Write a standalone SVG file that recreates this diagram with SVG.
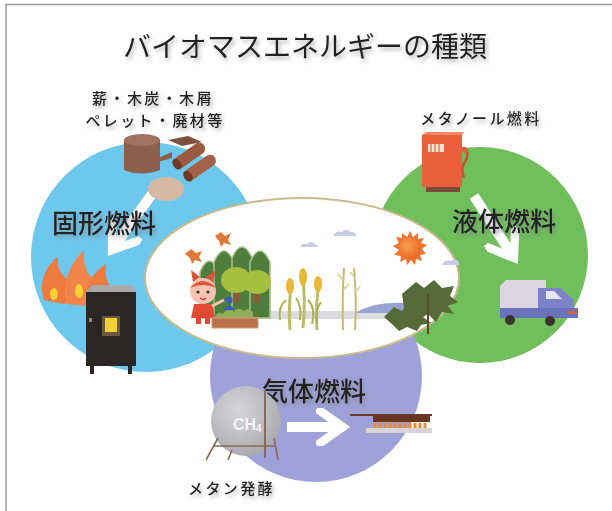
<svg xmlns="http://www.w3.org/2000/svg" width="612" height="511" viewBox="0 0 612 511">
  <defs>
    <filter id="shadow" x="-10%" y="-40%" width="120%" height="180%">
      <feDropShadow dx="2" dy="3" stdDeviation="2" flood-color="#777" flood-opacity="0.55"/>
    </filter>
    <radialGradient id="tankGrad" cx="0.4" cy="0.35" r="0.7">
      <stop offset="0" stop-color="#d6d6da"/>
      <stop offset="1" stop-color="#a8a8ae"/>
    </radialGradient>
    <radialGradient id="sunGrad" cx="0.4" cy="0.4" r="0.6">
      <stop offset="0" stop-color="#f8a050"/>
      <stop offset="1" stop-color="#ec6a28"/>
    </radialGradient>
    <marker id="chev" viewBox="0 0 10 10" refX="7" refY="5" markerWidth="3.8" markerHeight="3.8" orient="auto" markerUnits="strokeWidth">
      <path d="M1,0.8 L7,5 L1,9.2" fill="none" stroke="#fff" stroke-width="2.2" stroke-linecap="square"/>
    </marker>
  </defs>
  <style>
    .jp { font-family: "Noto Sans CJK JP", "Noto Sans", sans-serif; fill: #222; }
    .title { font-size: 28px; font-weight: 400; }
    .big { font-size: 26px; font-weight: 500; }
    .small { font-size: 15px; font-weight: 500; letter-spacing: 2.4px; }
    .flow { stroke: #fff; stroke-width: 10; fill: none; stroke-linecap: butt; }
    .mtn { fill: #4f7d3e; stroke: #a9c08a; stroke-width: 1.5; }
    .crown { fill: #a7bf3e; }
    .trunk { fill: #8a5a3a; }
    .pine { fill: #556b3a; }
    .cloud { fill: #c9cbe6; }
    .stalk { stroke: #b7bf6a; stroke-width: 3; fill: none; }
    .cob { fill: #e8b838; }
  </style>

  <!-- frame -->
  <rect x="0" y="0" width="612" height="511" fill="#fff"/>
  <path d="M6,511 L6,4.5 L612,4.5" fill="none" stroke="#9a9a9a" stroke-width="1.5"/>

  <!-- title -->
  <text class="jp title" x="305" y="57" text-anchor="middle" filter="url(#shadow)">バイオマスエネルギーの種類</text>

  <!-- three fuel circles -->
  <g id="solid-circle"><circle cx="146" cy="257" r="115" fill="#6ec8ee"/></g>
  <g id="liquid-circle"><circle cx="480" cy="255" r="108" fill="#70bf5c"/></g>
  <g id="gas-circle"><circle cx="316" cy="376" r="106" fill="#9fa2d8"/></g>

  <!-- connectors: white arrows inside each circle -->
  <g id="connectors">
    <line class="flow" x1="152" y1="194" x2="112" y2="250" marker-end="url(#chev)"/>
    <line class="flow" x1="474" y1="196" x2="514" y2="258" marker-end="url(#chev)"/>
    <line class="flow" x1="287" y1="427" x2="343" y2="427" marker-end="url(#chev)"/>
  </g>

  <!-- central biomass landscape -->
  <g id="biomass-scene">
    <ellipse cx="302" cy="278" rx="157" ry="80" fill="#fff" stroke="#c9bb8c" stroke-width="2"/>
    <!-- clouds -->
    <path class="cloud" d="M333,236 q3,-6 9,-4 q4,-5 9,0 q5,0 5,4 z"/>
    <path class="cloud" d="M300,247 q2,-5 7,-3 q4,-4 8,0 q3,1 3,3 z"/>
    <path class="cloud" d="M442,265 q3,-6 9,-4 q4,-4 8,1 l0,3 z"/>
    <!-- sun -->
    <g transform="translate(410,248)">
      <polygon fill="#ef7430" points="0,-17 3,-11 8,-15 8,-9 14,-10 11,-5 17,-3 12,1 16,6 10,7 12,13 6,11 5,17 1,12 -3,17 -4,11 -10,14 -9,8 -16,7 -11,2 -17,-2 -11,-5 -14,-11 -8,-10 -8,-15 -3,-11"/>
      <circle r="11" fill="url(#sunGrad)"/>
    </g>
    <!-- ground -->
    <rect x="225" y="311" width="195" height="8" fill="#dcdcde"/>
    <path d="M355,313 q20,-12 50,-10 q20,2 30,10 z" fill="#9aa4d2"/>
    <!-- mountains -->
    <path class="mtn" d="M200,318 L200,272 q10,-22 18,0 L218,318 z"/>
    <path class="mtn" d="M214,318 L214,262 q10,-22 20,0 L234,318 z"/>
    <path class="mtn" d="M232,318 L232,258 q10,-22 20,0 L252,318 z"/>
    <path class="mtn" d="M250,318 L250,262 q10,-22 20,0 L270,318 z"/>
    <!-- broad-leaved trees -->
    <rect class="trunk" x="234" y="282" width="5" height="20"/>
    <ellipse class="crown" cx="236" cy="280" rx="15" ry="13"/>
    <rect class="trunk" x="254" y="285" width="5" height="18"/>
    <ellipse class="crown" cx="257" cy="282" rx="14" ry="12"/>
    <!-- birds / butterflies -->
    <path d="M215,236 l6,-4 l4,4 l6,-3 l-3,7 l3,5 l-7,-2 l-3,4 l-2,-6 z" fill="#e07a3a"/>
    <path d="M185,254 l6,-5 l5,4 l6,-2 l-3,6 l3,5 l-7,-2 l-3,4 l-2,-6 z" fill="#e07a3a"/>
    <!-- child -->
    <path d="M193,282 l-2,-12 l9,7 z M213,282 l3,-12 l-10,7 z" fill="#e0553a"/>
    <circle cx="203" cy="291" r="13" fill="#f6c4b0"/>
    <path d="M190,288 q13,-14 26,0 q-13,-6 -26,0 z" fill="#e0553a"/>
    <circle cx="198" cy="292" r="1.6" fill="#333"/>
    <circle cx="208" cy="292" r="1.6" fill="#333"/>
    <path d="M200,298 q3,3 6,0" stroke="#c0392b" stroke-width="1.2" fill="none"/>
    <path d="M194,304 h18 l3,14 h-24 z" fill="#e34a36"/>
    <path d="M212,306 l12,-6" stroke="#f6c4b0" stroke-width="3"/>
    <rect x="196" y="318" width="5" height="6" fill="#e34a36"/>
    <rect x="205" y="318" width="5" height="6" fill="#e34a36"/>
    <!-- small figure and planter -->
    <circle cx="229" cy="300" r="3.5" fill="#3b5fb0"/>
    <path d="M224,310 q5,-9 11,0 z" fill="#3b5fb0"/>
    <path d="M214,318 q4,-8 9,-4 q4,-7 10,-2 q5,-6 11,-1 q4,-4 9,1 l0,6 z" fill="#8fae5a"/>
    <rect x="212" y="318" width="46" height="10" fill="#b8714a" stroke="#d99a70" stroke-width="1"/>
    <!-- maize -->
    <path class="stalk" d="M290,330 q-2,-25 2,-50"/>
    <path class="stalk" d="M303,328 q3,-28 -1,-58"/>
    <path class="stalk" d="M317,330 q-2,-25 3,-52"/>
    <ellipse class="cob" cx="290" cy="286" rx="4" ry="8"/>
    <ellipse class="cob" cx="303" cy="277" rx="4" ry="9"/>
    <ellipse class="cob" cx="318" cy="284" rx="4" ry="8"/>
    <path d="M286,300 q-8,6 -6,20 M296,298 q6,8 4,22 M308,300 q8,8 4,24 M321,302 q-6,8 -4,22" stroke="#a9b54c" stroke-width="2" fill="none"/>
    <!-- grass -->
    <path d="M343,330 q-1,-30 1,-62 M355,330 q2,-30 -1,-62" stroke="#c8b870" stroke-width="2" fill="none"/>
    <path d="M343,280 l-5,-6 M343,290 l6,-6 M355,278 l-5,-6 M355,292 l5,-5" stroke="#d8cc90" stroke-width="1.5"/>
    <!-- pines -->
    <path class="pine" d="M384,317 l10,-10 l8,4 l6,-8 l8,6 l5,-4 l8,8 l-6,4 l8,6 l-10,2 l-4,6 l-10,-4 l-8,4 l-6,-6 z"/>
    <path class="pine" d="M402,294 l14,-12 l8,6 l10,-8 l8,8 l12,-2 l-4,10 l8,6 l-10,4 l6,8 l-12,-2 l-6,10 l-8,-8 l-10,6 l-2,-10 l-12,-2 z"/>
    <path d="M428,294 v40" stroke="#5a4a2a" stroke-width="2"/>
  </g>

  <!-- solid fuel: wood, pellets, stove -->
  <g id="solid-fuel">
    <text class="jp small" x="153" y="104" text-anchor="middle" filter="url(#shadow)">薪・木炭・木屑</text>
    <text class="jp small" x="155" y="126" text-anchor="middle" filter="url(#shadow)">ペレット・廃材等</text>
    <!-- stump -->
    <path d="M124,140 v30 q17,7 36,0 v-30 z" fill="#8c5e4c"/>
    <ellipse cx="142" cy="140" rx="18" ry="6" fill="#a27260"/>
    <path d="M158,158 l14,-6 v6 l-14,4 z" fill="#8c5e4c"/>
    <!-- logs -->
    <g transform="rotate(-35 190 160)">
      <rect x="174" y="150" width="36" height="12" rx="6" fill="#9a5a40"/>
      <ellipse cx="177" cy="156" rx="4" ry="6" fill="#6e3a28"/>
      <rect x="176" y="166" width="36" height="12" rx="6" fill="#a46248"/>
      <ellipse cx="179" cy="172" rx="4" ry="6" fill="#6e3a28"/>
    </g>
    <path d="M168,140 l20,-4 l14,6 l-20,4 z" fill="#7e5040"/>
    <!-- sawdust -->
    <ellipse cx="166" cy="189" rx="18" ry="12" fill="#d6b9a2"/>
    <text class="jp big" x="52" y="233" filter="url(#shadow)">固形燃料</text>
    <!-- flames -->
    <path d="M44,300 q-8,-24 14,-44 q-2,14 8,22 q12,16 -2,26 z" fill="#ef7a3e"/>
    <path d="M66,304 q-6,-30 18,-54 q-2,20 10,30 q8,18 -6,26 z" fill="#f0844a"/>
    <path d="M88,302 q-4,-24 18,-38 q-2,14 4,22 q4,14 -6,18 z" fill="#ef7a3e"/>
    <ellipse cx="54" cy="294" rx="4" ry="6" fill="#f7d234"/>
    <ellipse cx="79" cy="291" rx="4" ry="7" fill="#f7d234"/>
    <!-- stove -->
    <path d="M86,292 l6,-7 h40 l4,7 z" fill="#aaa"/>
    <rect x="86" y="292" width="50" height="74" fill="#2b2626"/>
    <rect x="90" y="366" width="4" height="8" fill="#2b2626"/>
    <rect x="128" y="366" width="4" height="8" fill="#2b2626"/>
    <rect x="102" y="316" width="18" height="20" fill="#6a5a3a"/>
    <rect x="105" y="318" width="12" height="14" fill="#f2d03a"/>
    <rect x="89" y="318" width="3" height="4" fill="#888"/>
  </g>

  <!-- liquid fuel: methanol pump and truck -->
  <g id="liquid-fuel">
    <text class="jp small" x="481" y="124" text-anchor="middle" filter="url(#shadow)">メタノール燃料</text>
    <rect x="422" y="135" width="40" height="52" fill="#e9603a"/>
    <path d="M422,135 l4,-3 h38 l-2,3 z" fill="#f08a60"/>
    <rect x="428" y="144" width="16" height="8" fill="#f4e0d0"/>
    <path d="M431,144 v8 M435,144 v8 M439,144 v8" stroke="#c65030" stroke-width="1"/>
    <rect x="426" y="187" width="34" height="5" fill="#7a4a3a"/>
    <path d="M462,148 q8,2 4,12 q-6,8 -2,18" stroke="#c85030" stroke-width="2.5" fill="none"/>
    <circle cx="465" cy="150" r="3" fill="#d86040"/>
    <text class="jp big" x="452" y="231" filter="url(#shadow)">液体燃料</text>
    <!-- truck -->
    <path d="M500,286 l6,-6 h40 v28 h-46 z" fill="#dcd6e2"/>
    <path d="M538,288 h22 l14,12 v14 h-36 z" fill="#7c83c8"/>
    <path d="M546,291 h8 l8,8 h-16 z" fill="#e4e6f4"/>
    <rect x="500" y="308" width="78" height="10" fill="#6b72bc"/>
    <rect x="568" y="311" width="10" height="3" fill="#d06040"/>
    <circle cx="510" cy="320" r="5" fill="#3a3030"/>
    <circle cx="550" cy="321" r="5" fill="#3a3030"/>
  </g>

  <!-- gas fuel: methane tank and burner -->
  <g id="gas-fuel">
    <text class="jp big" x="262" y="401" filter="url(#shadow)">気体燃料</text>
    <circle cx="246" cy="421" r="35" fill="url(#tankGrad)"/>
    <text x="233" y="430" font-family="Liberation Sans, Arial, sans-serif" font-size="16" font-weight="bold" fill="#f4f4f6">CH<tspan font-size="10" dy="2">4</tspan></text>
    <path d="M265,390 v68" stroke="#8a6a5a" stroke-width="2"/>
    <path d="M218,438 l-12,22 M274,438 l4,22 M214,446 h62 M232,450 l-4,10" stroke="#8a6a5a" stroke-width="1.6" fill="none"/>
    <!-- pan and burner -->
    <path d="M350,415 h82" stroke="#6a3a2a" stroke-width="2"/>
    <rect x="373" y="415" width="57" height="7" fill="#6a3422"/>
    <path d="M375,423 v5 M380,423 v5 M385,423 v5 M390,423 v5 M395,423 v5 M400,423 v5 M405,423 v5 M410,423 v5 M415,423 v5 M420,423 v5 M425,423 v5" stroke="#f08a30" stroke-width="3"/>
    <rect x="366" y="428" width="66" height="5" fill="#d8d4d8"/>
    <text class="jp small" x="188" y="494" filter="url(#shadow)">メタン発酵</text>
  </g>
</svg>
